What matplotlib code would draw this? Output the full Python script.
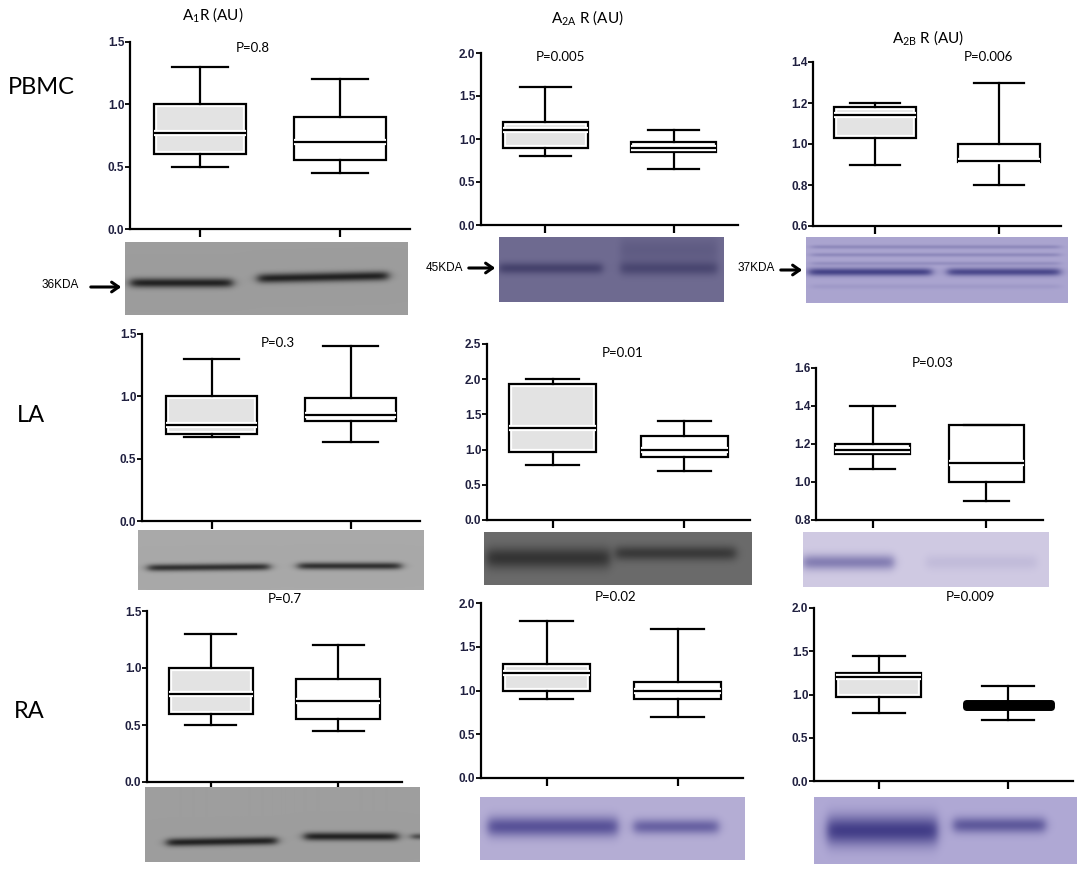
import numpy as np
import matplotlib
matplotlib.use("Agg")
import matplotlib.pyplot as plt
from matplotlib.colors import to_rgb
from matplotlib.ticker import FormatStrFormatter, MultipleLocator

plt.rcParams["font.family"] = ["Liberation Sans", "DejaVu Sans"]

# figure size in pixels
W, H = 1084, 873

# rows (tissues) and columns (receptors)
tissues = ["PBMC", "LA", "RA"]
titles = [r"A$\mathregular{_1}$R (AU)", r"A$\mathregular{_{2A}}$ R (AU)",
          r"A$\mathregular{_{2B}}$ R (AU)"]
p_labels = [["P=0.8", "P=0.005", "P=0.006"],
            ["P=0.3", "P=0.01", "P=0.03"],
            ["P=0.7", "P=0.02", "P=0.009"]]
kda_labels = ["36KDA", "45KDA", "37KDA"]

# five-number summaries per group: whisker low, q1, median, q3, whisker high
pbmc_a1 = [[0.50, 0.60, 0.77, 1.00, 1.30], [0.45, 0.55, 0.70, 0.90, 1.20]]
pbmc_a2a = [[0.80, 0.90, 1.10, 1.20, 1.60], [0.65, 0.85, 0.90, 0.97, 1.10]]
pbmc_a2b = [[0.90, 1.03, 1.14, 1.18, 1.20], [0.80, 0.91, 0.915, 1.00, 1.30]]
la_a1 = [[0.67, 0.70, 0.77, 1.00, 1.30], [0.63, 0.80, 0.85, 0.99, 1.40]]
la_a2a = [[0.78, 0.97, 1.30, 1.93, 2.00], [0.70, 0.90, 1.00, 1.20, 1.40]]
la_a2b = [[1.07, 1.15, 1.17, 1.20, 1.40], [0.90, 1.00, 1.10, 1.30, 1.30]]
ra_a1 = [[0.50, 0.60, 0.77, 1.00, 1.30], [0.45, 0.55, 0.71, 0.90, 1.20]]
ra_a2a = [[0.90, 1.00, 1.20, 1.30, 1.80], [0.70, 0.90, 1.00, 1.10, 1.70]]
ra_a2b = [[0.79, 0.97, 1.20, 1.25, 1.45], [0.70, 0.85, 0.87, 0.90, 1.10]]
stats = [[pbmc_a1, pbmc_a2a, pbmc_a2b],
         [la_a1, la_a2a, la_a2b],
         [ra_a1, ra_a2a, ra_a2b]]

# y ranges and tick steps
y_ranges = [[(0, 1.5), (0, 2.0), (0.6, 1.4)],
            [(0, 1.5), (0, 2.5), (0.8, 1.6)],
            [(0, 1.5), (0, 2.0), (0, 2.0)]]
y_steps = [[0.5, 0.5, 0.2], [0.5, 0.5, 0.2], [0.5, 0.5, 0.5]]

# layout in pixels (x0, y0, x1, y1)
plot_boxes = [[(130, 42, 410, 229), (481, 53, 738, 225), (813, 62, 1061, 226)],
              [(142, 334, 420, 521), (487, 344, 750, 520), (816, 368, 1043, 520)],
              [(147, 611, 402, 782), (481, 603, 743, 778), (814, 608, 1073, 781)]]
blot_boxes = [[(125, 242, 408, 315), (499, 237, 724, 302), (806, 237, 1068, 303)],
              [(138, 530, 424, 590), (484, 532, 752, 585), (803, 532, 1049, 587)],
              [(145, 787, 419, 862), (480, 797, 745, 860), (814, 797, 1077, 864)]]
title_pos = [(213, 15), (587, 18), (928, 38)]
p_pos = [[(253, 48), (560, 57), (988, 57)],
         [(278, 343), (623, 353), (933, 363)],
         [(285, 599), (616, 597), (970, 597)]]
tissue_pos = [(8, 88), (17, 415), (14, 712)]

# blot appearance: background, band colour, bands (x0, x1, y centre, half height, strength, tilt)
blots = [
    [("#9d9d9d", "#1c1c1c", [(0.02, 0.38, 0.56, 0.065, 0.95, 0.0),
                             (0.47, 0.93, 0.50, 0.065, 0.95, -0.08)]),
     ("#6f6b91", "#3c3964", [(0.00, 0.46, 0.48, 0.09, 0.8, 0.0),
                             (0.54, 0.97, 0.48, 0.11, 0.7, 0.0),
                             (0.54, 0.97, 0.20, 0.20, 0.3, 0.0)]),
     ("#aba5d0", "#3b3980", [(0.01, 0.48, 0.53, 0.06, 0.9, 0.0),
                             (0.54, 0.97, 0.53, 0.06, 0.85, 0.0),
                             (0.02, 0.97, 0.15, 0.03, 0.25, 0.0),
                             (0.02, 0.97, 0.27, 0.03, 0.25, 0.0),
                             (0.02, 0.97, 0.40, 0.03, 0.2, 0.0),
                             (0.02, 0.97, 0.75, 0.04, 0.1, 0.0)])],
    [("#a9a9a9", "#242424", [(0.035, 0.46, 0.63, 0.06, 0.9, -0.04),
                             (0.56, 0.92, 0.60, 0.06, 0.9, 0.0)]),
     ("#6b6b6b", "#2e2e2e", [(0.01, 0.47, 0.49, 0.20, 0.9, 0.0),
                             (0.49, 0.94, 0.40, 0.14, 0.8, 0.0)]),
     ("#d0cae3", "#736da8", [(0.00, 0.37, 0.55, 0.14, 0.8, 0.0),
                             (0.50, 0.95, 0.55, 0.14, 0.15, 0.0)])],
    [("#9e9e9e", "#1c1c1c", [(0.08, 0.48, 0.74, 0.055, 0.95, -0.06),
                             (0.58, 0.92, 0.66, 0.055, 0.95, 0.0),
                             (0.97, 1.02, 0.66, 0.04, 0.7, 0.0)]),
     ("#b5aed5", "#49438e", [(0.03, 0.52, 0.47, 0.16, 0.85, 0.0),
                             (0.58, 0.90, 0.47, 0.12, 0.7, 0.0)]),
     ("#b0a9d5", "#3d3884", [(0.05, 0.47, 0.50, 0.22, 0.95, 0.0),
                             (0.53, 0.88, 0.42, 0.12, 0.7, 0.0)])],
]

kda_pos = [(60, 285, 88, 124, 287), (444, 268, 466, 498, 268), (756, 268, 778, 805, 270)]

fill_colors = ["#e3e3e3", "white"]
black_fill = (2, 2, 1)  # RA / A2B second box drawn solid


def rect(x0, y0, x1, y1):
    return [x0 / W, 1 - y1 / H, (x1 - x0) / W, (y1 - y0) / H]


def make_blot(w, h, bg, band, bands):
    xx = (np.arange(w) + 0.5) / w
    yy = (np.arange(h) + 0.5) / h
    img = np.ones((h, w, 3)) * np.array(to_rgb(bg))
    bc = np.array(to_rgb(band))
    for x0, x1, yc, hw, s, tilt in bands:
        xprof = 0.5 * (np.tanh((xx - x0) / 0.02) - np.tanh((xx - x1) / 0.02))
        yline = yc + tilt * (xx - x0)
        a = s * np.exp(-((yy[:, None] - yline[None, :]) / hw) ** 2) * xprof[None, :]
        img = img * (1 - a[..., None]) + bc * a[..., None]
    return np.clip(img, 0, 1)


fig = plt.figure(figsize=(W / 100, H / 100), dpi=100)

for r in range(3):
    for c in range(3):
        ax = fig.add_axes(rect(*plot_boxes[r][c]))
        groups = stats[r][c]
        bstats = [dict(whislo=g[0], q1=g[1], med=g[2], q3=g[3], whishi=g[4])
                  for g in groups]
        # fill with a white inner border
        under = ax.bxp(bstats, positions=[1, 2], widths=0.66, showfliers=False,
                       patch_artist=True, showcaps=False,
                       boxprops=dict(edgecolor="white", linewidth=4.5),
                       medianprops=dict(color="white", linewidth=4.5),
                       whiskerprops=dict(linewidth=0))
        for i, patch in enumerate(under["boxes"]):
            patch.set_facecolor(fill_colors[i])
            if (r, c, i) == black_fill:
                patch.set_facecolor("black")
                patch.set_edgecolor("black")
                patch.set_linewidth(5)
                patch.set_joinstyle("round")
                under["medians"][i].set_color("black")
        ax.bxp(bstats, positions=[1, 2], widths=0.66, showfliers=False,
               patch_artist=True, capwidths=0.4,
               boxprops=dict(facecolor="none", edgecolor="black", linewidth=1.6),
               medianprops=dict(color="black", linewidth=1.6),
               whiskerprops=dict(color="black", linewidth=1.6),
               capprops=dict(color="black", linewidth=1.6))
        ax.set_xlim(0.5, 2.5)
        ax.set_ylim(*y_ranges[r][c])
        ax.set_xticks([1, 2])
        ax.yaxis.set_major_locator(MultipleLocator(y_steps[r][c]))
        ax.yaxis.set_major_formatter(FormatStrFormatter("%.1f"))
        for side in ("top", "right"):
            ax.spines[side].set_visible(False)
        for side in ("left", "bottom"):
            ax.spines[side].set_linewidth(1.6)
        ax.tick_params(axis="y", length=3.5, width=1.3, pad=0.5,
                       labelsize=8.5, labelcolor="#202040")
        ax.tick_params(axis="x", length=6, width=1.6, labelbottom=False)
        for lab in ax.get_yticklabels():
            lab.set_fontweight("bold")
        ax.patch.set_alpha(0)

        bx = fig.add_axes(rect(*blot_boxes[r][c]))
        x0, y0, x1, y1 = blot_boxes[r][c]
        bg, band, bands = blots[r][c]
        bx.imshow(make_blot(x1 - x0, y1 - y0, bg, band, bands),
                  aspect="auto", interpolation="bilinear")
        bx.axis("off")

# overlay for labels and arrows, in pixel coordinates
ov = fig.add_axes([0, 0, 1, 1])
ov.set_xlim(0, W)
ov.set_ylim(H, 0)
ov.axis("off")

for (x, y), t in zip(title_pos, titles):
    ov.text(x, y, t, ha="center", va="center", fontsize=11, family="Lato")
for r in range(3):
    for c in range(3):
        x, y = p_pos[r][c]
        ov.text(x, y, p_labels[r][c], ha="center", va="center",
                fontsize=9.5, family="Lato")
for (x, y), t in zip(tissue_pos, tissues):
    ov.text(x, y, t, ha="left", va="center", fontsize=17, family="Lato")
for (tx, ty, ax0, ax1, ay), t in zip(kda_pos, kda_labels):
    ov.text(tx, ty, t, ha="center", va="center", fontsize=8.5)
    ov.annotate("", xy=(ax1, ay), xytext=(ax0, ay),
                arrowprops=dict(arrowstyle="->,head_length=0.5,head_width=0.35",
                                lw=2.2, color="black"))

fig.savefig("out.png", dpi=100)
